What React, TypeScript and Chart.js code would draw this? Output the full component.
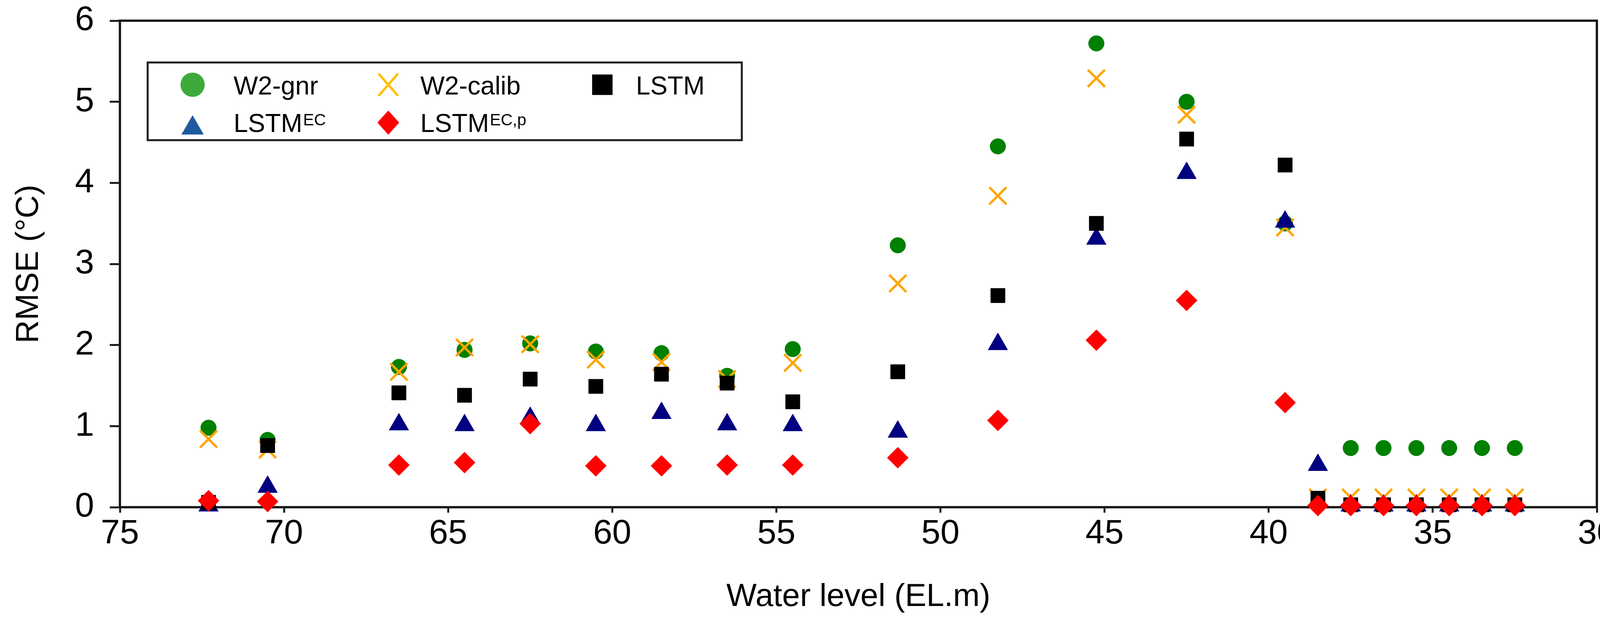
import React, { useEffect, useRef } from 'react';
import { Chart, registerables } from 'chart.js';

Chart.register(...registerables);

// ---------- data ----------
const waterLevel = [72.3, 70.5, 66.5, 64.5, 62.5, 60.5, 58.5, 56.5, 54.5, 51.3, 48.25, 45.25, 42.5, 39.5, 38.5, 37.5, 36.5, 35.5, 34.5, 33.5, 32.5];
const w2Gnr = [0.98, 0.83, 1.73, 1.94, 2.02, 1.92, 1.9, 1.62, 1.95, 3.23, 4.45, 5.72, 5.0, 3.5, 0.03, 0.73, 0.73, 0.73, 0.73, 0.73, 0.73];
const w2Calib = [0.84, 0.71, 1.67, 1.97, 2.01, 1.82, 1.79, 1.58, 1.78, 2.76, 3.84, 5.29, 4.84, 3.45, 0.12, 0.12, 0.12, 0.12, 0.12, 0.12, 0.12];
const lstm = [0.06, 0.76, 1.41, 1.38, 1.58, 1.49, 1.64, 1.53, 1.3, 1.67, 2.61, 3.5, 4.54, 4.22, 0.11, 0.03, 0.03, 0.03, 0.03, 0.03, 0.03];
const lstmEC = [0.02, 0.25, 1.02, 1.01, 1.1, 1.01, 1.16, 1.02, 1.01, 0.93, 2.01, 3.31, 4.12, 3.52, 0.52, 0.02, 0.02, 0.02, 0.02, 0.02, 0.02];
const lstmECp = [0.08, 0.07, 0.52, 0.55, 1.03, 0.51, 0.51, 0.52, 0.52, 0.61, 1.07, 2.06, 2.55, 1.29, 0.02, 0.02, 0.02, 0.02, 0.02, 0.02, 0.02];

const seriesLabels = ['W2-gnr', 'W2-calib', 'LSTM', 'LSTM', 'LSTM'];
const seriesSup = ['', '', '', 'EC', 'EC,p'];
const xTitle = 'Water level (EL.m)';
const yTitle = 'RMSE (°C)';

// ---------- styles ----------
const W = 4150;
const H = 1593;
const FONT = '"Liberation Sans", Arial, Helvetica, sans-serif';
const AXIS = '#1c1c1c';

const plotColors = ['#008000', '#FFA500', '#000000', '#000080', '#FF0000'];
const legendColors = ['#3DAA3A', '#FFC000', '#000000', '#1F5A9E', '#FF0000'];
const styles = ['circle', 'crossRot', 'rect', 'triangle', 'rectRot'];

function pts(ys: number[]) {
  return waterLevel.map((x, i) => ({ x, y: ys[i] }));
}

function drawMarker(ctx: CanvasRenderingContext2D, style: string, x: number, y: number, r: number, color: string) {
  ctx.save();
  ctx.fillStyle = color;
  ctx.strokeStyle = color;
  ctx.beginPath();
  if (style === 'circle') {
    ctx.arc(x, y, r, 0, Math.PI * 2);
    ctx.fill();
  } else if (style === 'rect') {
    const s = r * Math.SQRT1_2;
    ctx.rect(x - s, y - s, 2 * s, 2 * s);
    ctx.fill();
  } else if (style === 'triangle') {
    const w = r * Math.sin(Math.PI * 2 / 3);
    ctx.moveTo(x, y - r);
    ctx.lineTo(x + w, y + r / 2);
    ctx.lineTo(x - w, y + r / 2);
    ctx.closePath();
    ctx.fill();
  } else if (style === 'rectRot') {
    ctx.moveTo(x - r * 0.9, y);
    ctx.lineTo(x, y - r);
    ctx.lineTo(x + r * 0.9, y);
    ctx.lineTo(x, y + r);
    ctx.closePath();
    ctx.fill();
  } else if (style === 'crossRot') {
    const o = r * Math.SQRT1_2;
    ctx.lineWidth = 6;
    ctx.lineCap = 'round';
    ctx.moveTo(x - o, y - o * 1.15);
    ctx.lineTo(x + o, y + o * 1.15);
    ctx.moveTo(x + o, y - o * 1.15);
    ctx.lineTo(x - o, y + o * 1.15);
    ctx.stroke();
  }
  ctx.restore();
}

const framePlugin = {
  id: 'frame',
  afterDraw(chart: any) {
    const { ctx, chartArea } = chart;
    ctx.save();
    ctx.strokeStyle = AXIS;
    ctx.lineWidth = 6;
    ctx.beginPath();
    ctx.moveTo(chartArea.left - 3, chartArea.top);
    ctx.lineTo(chartArea.right, chartArea.top);
    ctx.lineTo(chartArea.right, chartArea.bottom + 3);
    ctx.stroke();
    ctx.restore();
  },
};

const legendPlugin = {
  id: 'customLegend',
  afterDraw(chart: any) {
    const { ctx, chartArea } = chart;
    const bx = chartArea.left + 71;
    const by = chartArea.top + 107;
    const bw = 1521;
    const bh = 199;
    ctx.save();
    ctx.fillStyle = '#ffffff';
    ctx.fillRect(bx, by, bw, bh);
    ctx.strokeStyle = AXIS;
    ctx.lineWidth = 5;
    ctx.strokeRect(bx, by, bw, bh);

    const markerX = [115, 616, 1164];
    const textX = [220, 698, 1250];
    const markerY = [57, 57, 57, 168, 154];
    const markerR = [31, 33, 37, 33, 31];
    const baseY = [82, 178];
    const cells = [
      [0, 0], [1, 0], [2, 0], [0, 1], [1, 1],
    ];
    seriesLabels.forEach((label, i) => {
      const [col, row] = cells[i];
      drawMarker(ctx, styles[i], bx + markerX[col], by + markerY[i], markerR[i], legendColors[i]);
      ctx.fillStyle = '#000';
      ctx.textBaseline = 'alphabetic';
      ctx.textAlign = 'left';
      ctx.font = `66px ${FONT}`;
      const tx = bx + textX[col];
      const ty = by + baseY[row];
      ctx.fillText(label, tx, ty);
      if (seriesSup[i]) {
        const w = ctx.measureText(label).width;
        ctx.font = `42px ${FONT}`;
        ctx.fillText(seriesSup[i], tx + w + 2, ty - 17);
      }
    });
    ctx.restore();
  },
};

export default function App() {
  const ref = useRef<HTMLCanvasElement>(null);

  useEffect(() => {
    const series = [w2Gnr, w2Calib, lstm, lstmEC, lstmECp];
    const radii = [20, 31, 26, 29, 27];
    const orders = [5, 4, 2, 3, 1];
    const datasets = series.map((ys, i) => ({
      label: seriesLabels[i] + seriesSup[i],
      data: pts(ys),
      pointStyle: styles[i],
      pointRadius: radii[i],
      pointHoverRadius: radii[i],
      backgroundColor: plotColors[i],
      borderColor: plotColors[i],
      pointBorderWidth: styles[i] === 'crossRot' ? 6 : 1,
      order: orders[i],
      clip: false as any,
      showLine: false,
    }));

    const chart = new Chart(ref.current as HTMLCanvasElement, {
      type: 'scatter',
      data: { datasets },
      options: {
        responsive: false,
        devicePixelRatio: 1,
        animation: false,
        events: [],
        layout: { padding: { left: 0, right: 62, top: 53, bottom: 0 } },
        plugins: {
          legend: { display: false },
          tooltip: { enabled: false },
          title: { display: false },
        },
        scales: {
          x: {
            type: 'linear',
            reverse: true,
            min: 30,
            max: 75,
            afterFit(scale: any) {
              scale.height = 294;
              scale.paddingLeft = 0;
              scale.paddingRight = 0;
            },
            grid: {
              display: true,
              drawOnChartArea: false,
              drawTicks: true,
              tickLength: 14,
              tickWidth: 5,
              tickColor: AXIS,
            },
            border: { display: true, width: 6, color: AXIS },
            ticks: {
              stepSize: 5,
              padding: 11,
              color: '#000',
              maxRotation: 0,
              autoSkip: false,
              font: { size: 88, family: FONT, lineHeight: 1 },
            },
            title: {
              display: true,
              text: xTitle,
              color: '#000',
              font: { size: 82, family: FONT, lineHeight: 1.2 },
              padding: { top: 0, bottom: 14 },
            },
          },
          y: {
            type: 'linear',
            min: 0,
            max: 6,
            afterFit(scale: any) {
              scale.width = 307;
              scale.paddingTop = 0;
              scale.paddingBottom = 0;
            },
            grid: {
              display: true,
              drawOnChartArea: false,
              drawTicks: true,
              tickLength: 26,
              tickWidth: 5,
              tickColor: AXIS,
            },
            border: { display: true, width: 6, color: AXIS },
            ticks: {
              stepSize: 1,
              padding: 40,
              color: '#000',
              font: { size: 88, family: FONT, lineHeight: 1 },
            },
            title: {
              display: true,
              text: yTitle,
              color: '#000',
              font: { size: 82, family: FONT, lineHeight: 1.2 },
              padding: { top: 25, bottom: 0 },
            },
          },
        },
      },
      plugins: [framePlugin, legendPlugin],
    });
    return () => chart.destroy();
  }, []);

  return (
    <div style={{ position: 'fixed', left: 0, top: 0, width: W, height: H, background: '#fff' }}>
      <canvas ref={ref} width={W} height={H} style={{ width: W, height: H, display: 'block' }} />
    </div>
  );
}
